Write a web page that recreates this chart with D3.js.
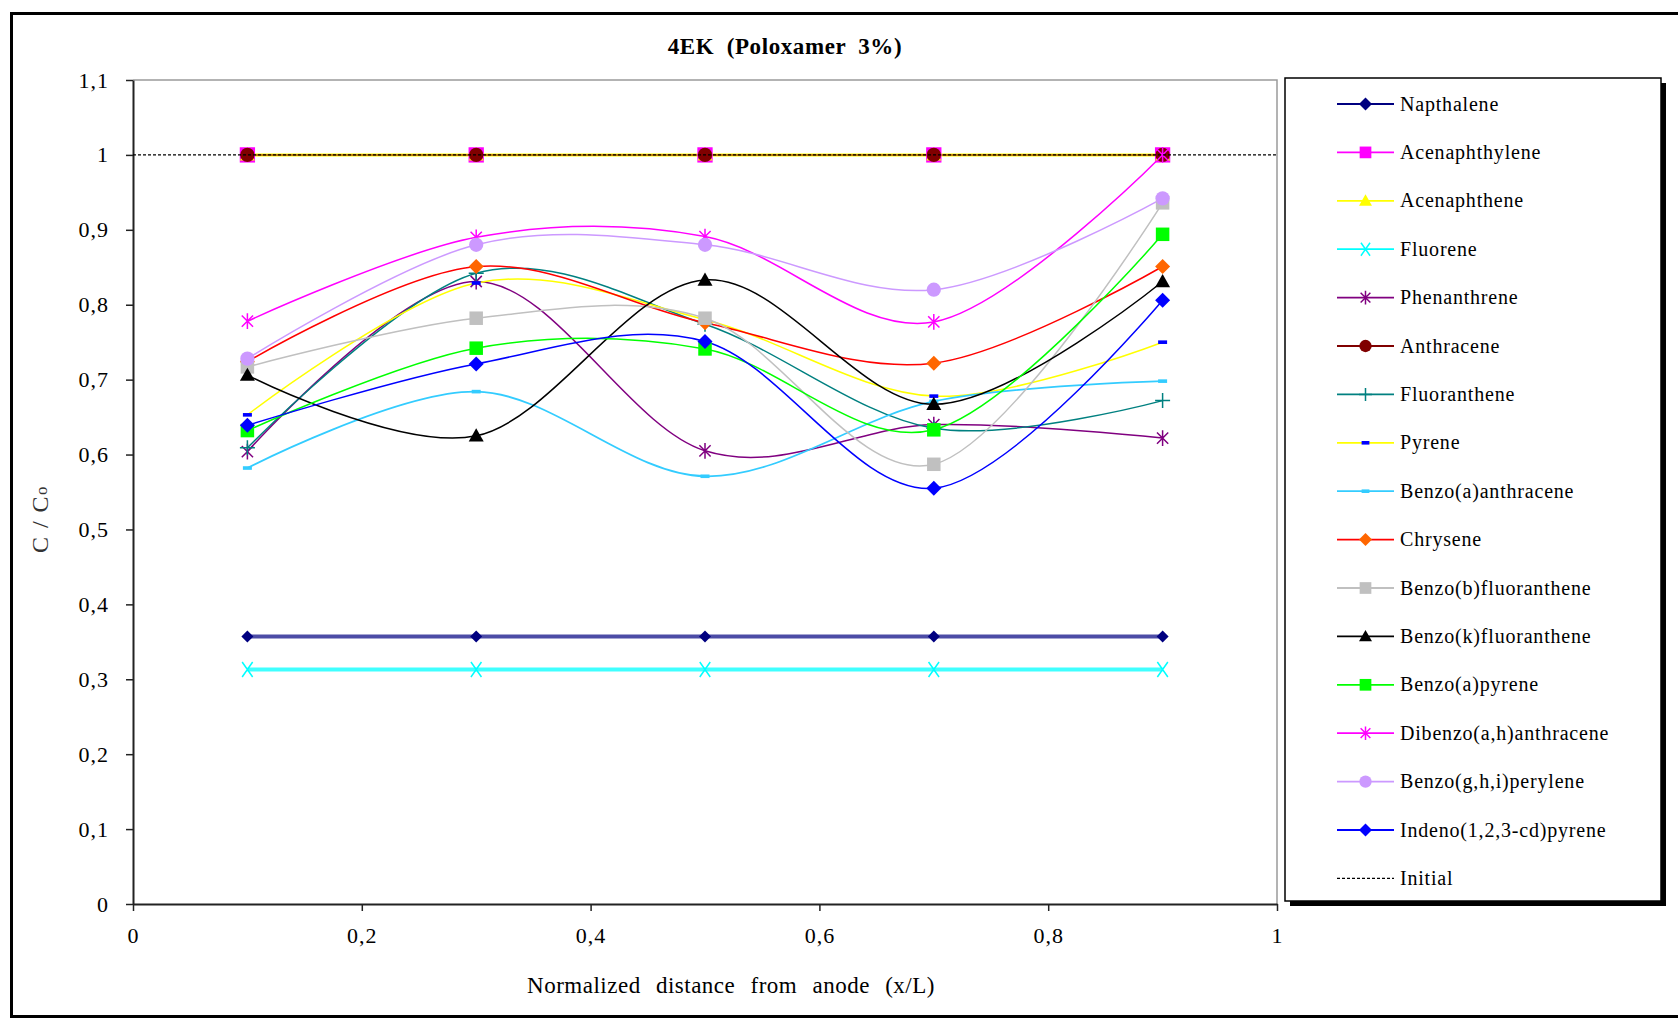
<!DOCTYPE html>
<html>
<head>
<meta charset="utf-8">
<script src="https://cdn.jsdelivr.net/npm/d3@7"></script>
<style>
  html, body { margin: 0; padding: 0; background: #fff; }
  svg { display: block; font-family: "Liberation Serif", "Times New Roman", serif; }
</style>
</head>
<body>
<svg id="chart" width="1678" height="1021"></svg>
<script>
// ---------------- DATA ----------------
const xValues = [0.1, 0.3, 0.5, 0.7, 0.9];
const xTicks = [0, 0.2, 0.4, 0.6, 0.8, 1];
const yTicks = [0, 0.1, 0.2, 0.3, 0.4, 0.5, 0.6, 0.7, 0.8, 0.9, 1, 1.1];

const seriesNames = [
  "Napthalene", "Acenaphthylene", "Acenaphthene", "Fluorene", "Phenanthrene",
  "Anthracene", "Fluoranthene", "Pyrene", "Benzo(a)anthracene", "Chrysene",
  "Benzo(b)fluoranthene", "Benzo(k)fluoranthene", "Benzo(a)pyrene",
  "Dibenzo(a,h)anthracene", "Benzo(g,h,i)perylene", "Indeno(1,2,3-cd)pyrene"
];

const napthalene      = [0.357, 0.357, 0.357, 0.357, 0.357];
const acenaphthylene  = [1.0, 1.0, 1.0, 1.0, 1.0];
const acenaphthene    = [1.0, 1.0, 1.0, 1.0, 1.0];
const fluorene        = [0.313, 0.313, 0.313, 0.313, 0.313];
const phenanthrene    = [0.604, 0.831, 0.605, 0.640, 0.622];
const anthracene      = [1.0, 1.0, 1.0, 1.0, 1.0];
const fluoranthene    = [0.609, 0.842, 0.774, 0.635, 0.672];
const pyrene          = [0.653, 0.829, 0.780, 0.678, 0.750];
const benzoAAnthracene= [0.582, 0.684, 0.571, 0.671, 0.698];
const chrysene        = [0.724, 0.851, 0.776, 0.722, 0.851];
const benzoBFluor     = [0.717, 0.782, 0.782, 0.587, 0.936];
const benzoKFluor     = [0.706, 0.625, 0.833, 0.667, 0.831];
const benzoAPyrene    = [0.632, 0.742, 0.741, 0.633, 0.894];
const dibenzoAH       = [0.778, 0.890, 0.891, 0.777, 1.0];
const benzoGHI        = [0.728, 0.880, 0.880, 0.820, 0.942];
const indeno          = [0.639, 0.721, 0.751, 0.555, 0.806];
const initialValue = 1;

const seriesValues = [napthalene, acenaphthylene, acenaphthene, fluorene, phenanthrene,
  anthracene, fluoranthene, pyrene, benzoAAnthracene, chrysene, benzoBFluor,
  benzoKFluor, benzoAPyrene, dibenzoAH, benzoGHI, indeno];

// styles (separate from data)
const lineColors = ["#000080", "#FF00FF", "#FFFF00", "#00FFFF", "#800080", "#800000",
  "#008080", "#FFFF00", "#33CCFF", "#FF0000", "#C0C0C0", "#000000", "#00FF00",
  "#FF00FF", "#CC99FF", "#0000FF"];
const markerColors = ["#000080", "#FF00FF", "#FFFF00", "#00FFFF", "#800080", "#800000",
  "#008080", "#0000FF", "#33CCFF", "#FF6600", "#C0C0C0", "#000000", "#00FF00",
  "#FF00FF", "#CC99FF", "#0000FF"];
const markerShapes = ["diamond", "square", "triangle", "x", "asterisk", "circle",
  "plus", "dash", "dash", "diamond", "square", "triangle", "square",
  "asterisk", "circle", "diamond"];
const lineWidths = [4, 2, 3, 4, 1.5, 2, 1.5, 1.5, 1.8, 1.5, 1.5, 1.5, 1.5, 1.5, 1.5, 1.5];
const lineOpacity = [0.7, 1, 1, 0.75, 1, 0.5, 1, 1, 1, 1, 1, 1, 1, 1, 1, 1];

// ---------------- LAYOUT ----------------
const svg = d3.select("#chart");
const plot = { left: 133, right: 1277, top: 80, bottom: 904 };

const x = d3.scaleLinear().domain([0, 1]).range([plot.left, plot.right]);
const y = d3.scaleLinear().domain([0, 1.1]).range([plot.bottom, plot.top]);
const fmt = v => d3.format("~g")(+v.toFixed(1)).replace(".", ",");

// outer border
svg.append("rect").attr("x", 11.5).attr("y", 13.5).attr("width", 1700).attr("height", 1003)
  .attr("fill", "none").attr("stroke", "#000").attr("stroke-width", 3);

// title
svg.append("text").attr("x", 785).attr("y", 54).attr("text-anchor", "middle")
  .attr("font-size", 23).attr("font-weight", "bold").attr("word-spacing", 6)
  .attr("letter-spacing", 0.6).text("4EK (Poloxamer 3%)");

// plot frame (top & right light gray)
svg.append("path")
  .attr("d", `M${plot.left},${plot.top}H${plot.right}V${plot.bottom}`)
  .attr("fill", "none").attr("stroke", "#9a9a9a").attr("stroke-width", 1.5);

// axes
const yAxis = d3.axisLeft(y).tickValues(yTicks).tickFormat(fmt).tickSize(7).tickSizeOuter(0);
const gy = svg.append("g").attr("transform", `translate(${plot.left},0)`).call(yAxis);
gy.select(".domain").attr("stroke", "#222").attr("stroke-width", 2);
gy.selectAll(".tick line").attr("stroke", "#222").attr("stroke-width", 1.5);
gy.selectAll(".tick text").attr("font-size", 22).attr("font-family", "Liberation Serif")
  .attr("letter-spacing", 1).attr("fill", "#000").attr("x", -24);

const xAxis = d3.axisBottom(x).tickValues(xTicks).tickFormat(fmt).tickSize(7).tickSizeOuter(0);
const gx = svg.append("g").attr("transform", `translate(0,${plot.bottom})`).call(xAxis);
gx.select(".domain").attr("stroke", "#222").attr("stroke-width", 2);
gx.selectAll(".tick line").attr("stroke", "#222").attr("stroke-width", 1.5);
gx.selectAll(".tick text").attr("font-size", 22).attr("font-family", "Liberation Serif")
  .attr("letter-spacing", 1).attr("fill", "#000").attr("y", 23);

// axis titles
svg.append("text").attr("x", 731).attr("y", 993).attr("text-anchor", "middle")
  .attr("font-size", 23).attr("word-spacing", 9).attr("letter-spacing", 0.5)
  .text("Normalized distance from anode (x/L)");
const yt = svg.append("text").attr("transform", "translate(48,519) rotate(-90)")
  .attr("text-anchor", "middle").attr("font-size", 24).attr("fill", "#333")
  .attr("letter-spacing", 1.5);
yt.append("tspan").text("C / C");
yt.append("tspan").attr("font-size", 17).attr("dy", -1).text("o");

// ---------------- MARKERS ----------------
function drawMarker(g, shape, cx, cy, color, s) {
  const r = s / 2;
  switch (shape) {
    case "diamond":
      g.append("path").attr("d", `M${cx},${cy - r}L${cx + r},${cy}L${cx},${cy + r}L${cx - r},${cy}Z`).attr("fill", color);
      break;
    case "square":
      g.append("rect").attr("x", cx - r * 0.9).attr("y", cy - r * 0.9).attr("width", r * 1.8).attr("height", r * 1.8).attr("fill", color);
      break;
    case "triangle":
      g.append("path").attr("d", `M${cx},${cy - r}L${cx + r},${cy + r * 0.75}L${cx - r},${cy + r * 0.75}Z`).attr("fill", color);
      break;
    case "circle":
      g.append("circle").attr("cx", cx).attr("cy", cy).attr("r", r * 0.95).attr("fill", color);
      break;
    case "x":
      g.append("path").attr("d", `M${cx - r * 0.7},${cy - r}L${cx + r * 0.7},${cy + r}M${cx + r * 0.7},${cy - r}L${cx - r * 0.7},${cy + r}`)
        .attr("stroke", color).attr("stroke-width", 1.5).attr("fill", "none");
      break;
    case "asterisk":
      g.append("path").attr("d", `M${cx - r * 0.75},${cy - r * 0.75}L${cx + r * 0.75},${cy + r * 0.75}M${cx + r * 0.75},${cy - r * 0.75}L${cx - r * 0.75},${cy + r * 0.75}M${cx},${cy - r * 1.05}V${cy + r * 1.05}`)
        .attr("stroke", color).attr("stroke-width", 1.5).attr("fill", "none");
      break;
    case "plus":
      g.append("path").attr("d", `M${cx - r},${cy}H${cx + r}M${cx},${cy - r}V${cy + r}`)
        .attr("stroke", color).attr("stroke-width", 1.5).attr("fill", "none");
      break;
    case "dash":
      g.append("rect").attr("x", cx - r * 0.6).attr("y", cy - 1.8).attr("width", r * 1.2).attr("height", 3.6).attr("fill", color);
      break;
  }
}

// ---------------- SERIES ----------------
const line = d3.line().x((d, i) => x(xValues[i])).y(d => y(d)).curve(d3.curveCardinal.tension(0));

const linesG = svg.append("g");
seriesValues.forEach((vals, si) => {
  linesG.append("path").datum(vals).attr("d", line)
    .attr("fill", "none").attr("stroke", lineColors[si])
    .attr("stroke-width", lineWidths[si]).attr("stroke-opacity", lineOpacity[si]);
});
const markersG = svg.append("g");
seriesValues.forEach((vals, si) => {
  const g = markersG.append("g");
  const size = si === 0 ? 12 : (si === 1 ? 17 : 15);
  vals.forEach((v, i) => drawMarker(g, markerShapes[si], x(xValues[i]), y(v), markerColors[si], size));
});

// initial dashed line
svg.append("line").attr("x1", plot.left).attr("x2", plot.right)
  .attr("y1", y(initialValue)).attr("y2", y(initialValue))
  .attr("stroke", "#000").attr("stroke-width", 1.3).attr("stroke-dasharray", "3,2");

// ---------------- LEGEND ----------------
const lg = { left: 1285, top: 78, right: 1661, bottom: 901 };
svg.append("rect").attr("x", lg.left + 5).attr("y", lg.top + 5)
  .attr("width", lg.right - lg.left).attr("height", lg.bottom - lg.top).attr("fill", "#000");
svg.append("rect").attr("x", lg.left).attr("y", lg.top)
  .attr("width", lg.right - lg.left).attr("height", lg.bottom - lg.top)
  .attr("fill", "#fff").attr("stroke", "#000").attr("stroke-width", 1.5);

const legendNames = seriesNames.concat(["Initial"]);
const legendY0 = 104, legendStep = 48.4;
legendNames.forEach((name, i) => {
  const ly = legendY0 + i * legendStep;
  const g = svg.append("g");
  if (i < seriesNames.length) {
    g.append("line").attr("x1", 1337).attr("x2", 1394).attr("y1", ly).attr("y2", ly)
      .attr("stroke", lineColors[i]).attr("stroke-width", 1.8);
    drawMarker(g, markerShapes[i], 1365.5, ly, markerColors[i], 13);
  } else {
    g.append("line").attr("x1", 1337).attr("x2", 1394).attr("y1", ly).attr("y2", ly)
      .attr("stroke", "#000").attr("stroke-width", 1.3).attr("stroke-dasharray", "3,2");
  }
  g.append("text").attr("x", 1400).attr("y", ly + 6.5).attr("font-size", 20)
    .attr("letter-spacing", 0.8).text(name);
});
</script>
</body>
</html>
